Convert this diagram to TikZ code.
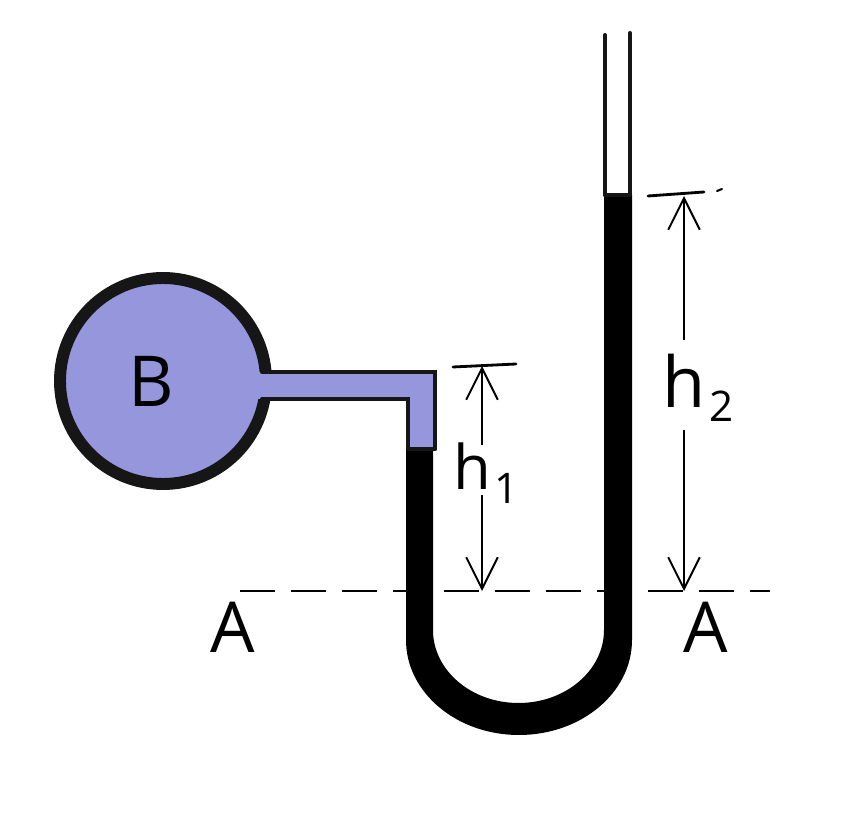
\documentclass[tikz,border=0pt]{standalone}
\usepackage{fontspec}
\setmainfont{Open Sans}
\usepackage{tikz}
\usetikzlibrary{positioning,calc,arrows.meta}
\definecolor{gasblue}{RGB}{150,150,220}
\definecolor{wallblack}{RGB}{22,22,22}
\tikzset{
	hand/.style={inner sep=0pt,font=\fontsize{40}{40}\selectfont},
	dimline/.style={-{Straight Barb[length=18pt,width=18pt]},line width=1.1pt},
	wall/.style={draw=wallblack,line width=2.3pt,line cap=round},
}
\newcommand{\lowdigit}[1]{\hspace{2pt}\raisebox{-8pt}{\fontsize{24}{24}\selectfont #1}}
\begin{document}
\begin{tikzpicture}[x=0.02cm,y=0.02cm]
		\useasboundingbox (0,0) rectangle (863,819);
		% datum line, behind the tube
		\coordinate (dl) at (240,228);
		\coordinate (dr) at (770,228);
		\draw[line width=1.1pt,dash pattern=on 20pt off 9pt] (dl)--(dr);
		
		% bulb and gas
		\node[circle,minimum size=206*0.02cm,draw=wallblack,fill=gasblue,line width=6.8pt] (bulb) at (163,438) {};
		\node[hand] (blabel) at (151,438) {B};
		\fill[gasblue] (255,447)--(435,447)--(435,370)--(408,370)--(408,420)--(255,420)--cycle;
		\draw[wall] (262,447)--(435,447)--(435,370);
		\draw[wall] (262,420)--(408,420)--(408,370);
		
		% mercury
		\fill[black] (406,370)--(406,179) arc[start angle=180,end angle=360,x radius=113,y radius=95]--(632,624)--(604,624)--(604,189) arc[start angle=360,end angle=180,x radius=85.5,y radius=73]--(433,370)--cycle;
		\draw[wall] (408,370)--(435,370);
		\draw[wall] (605,624)--(630,624);
		\draw[wall] (605,784)--(605,624);
		\draw[wall] (630,786)--(630,624);
		
		% h1
		\coordinate (topa) at (482,453);
		\coordinate (bota) at (482,228);
		\node[hand,font=\fontsize{35}{35}\selectfont,text height=25.5pt,text depth=3pt] (hone) at (486,349) {h\lowdigit{1}};
		\draw[dimline] (topa |- hone.north)--(topa);
		\draw[dimline] (topa |- hone.south)--(bota);
		\draw[line width=1.6pt,line cap=round] (453,452)--(516,455);
		
		% h2
		\coordinate (topb) at (684,623);
		\coordinate (botb) at (684,228);
		\node[hand,text height=38.5pt,text depth=12.5pt] (htwo) at (698,434) {h\lowdigit{2}};
		\draw[dimline] (topb |- htwo.north)--(topb);
		\draw[dimline] (topb |- htwo.south)--(botb);
		\draw[line width=1.6pt,line cap=round] (648,623)--(704,627);
		\draw[line width=1.2pt,line cap=round] (717,628)--(722,630);
		
		\node[hand] (al) at (233,192) {A};
		\node[hand] (ar) at (706,192) {A};
	\end{tikzpicture}
\end{document}
